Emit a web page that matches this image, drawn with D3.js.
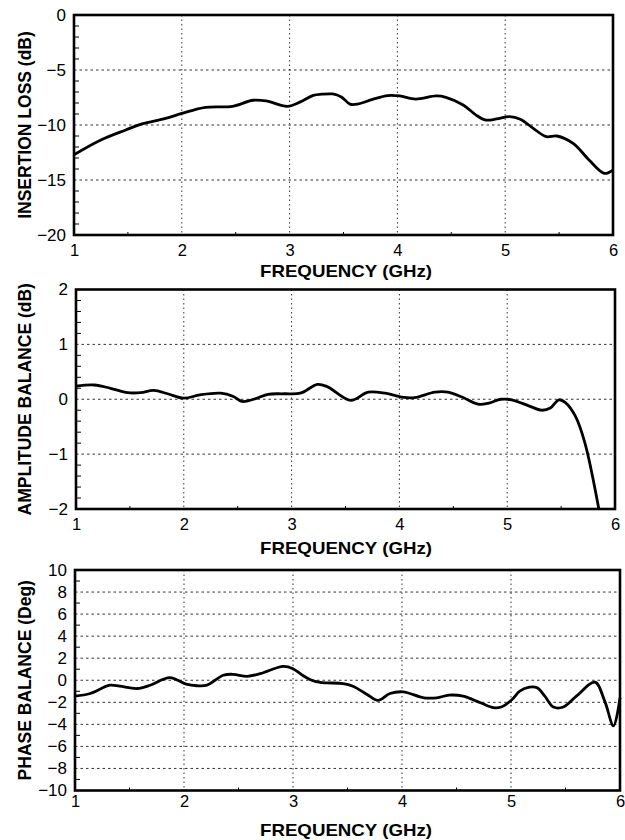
<!DOCTYPE html>
<html>
<head>
<meta charset="utf-8">
<script src="https://cdn.jsdelivr.net/npm/d3@7"></script>
<style>
  html, body { margin: 0; padding: 0; background: #fff; }
  svg { display: block; }
</style>
</head>
<body>
<svg id="chart" width="625" height="840"></svg>
<script>
// ---------- DATA ----------
const xTickLabels = [1, 2, 3, 4, 5, 6];

const insertionTicks = [0, -5, -10, -15, -20];
const insertionFreq = [1.0, 1.24, 1.48, 1.63, 1.85, 2.0, 2.22, 2.47, 2.66, 2.78, 2.98, 3.1, 3.22, 3.3, 3.4, 3.48, 3.56, 3.63, 3.77, 3.91, 4.02, 4.17, 4.36, 4.45, 4.61, 4.73, 4.82, 4.92, 5.04, 5.14, 5.26, 5.38, 5.48, 5.63, 5.78, 5.92, 6.0];
const insertionLoss = [-12.7, -11.4, -10.45, -9.9, -9.4, -8.95, -8.4, -8.3, -7.75, -7.8, -8.3, -7.9, -7.3, -7.2, -7.18, -7.45, -8.1, -8.1, -7.67, -7.33, -7.36, -7.64, -7.36, -7.48, -8.18, -9.1, -9.55, -9.45, -9.24, -9.48, -10.3, -11.06, -11.0, -11.67, -13.2, -14.4, -14.1];

const amplitudeTicks = [2, 1, 0, -1, -2];
const amplitudeFreq = [1.0, 1.17, 1.32, 1.48, 1.6, 1.72, 1.85, 2.0, 2.15, 2.34, 2.46, 2.54, 2.65, 2.78, 2.93, 3.08, 3.24, 3.33, 3.55, 3.71, 3.87, 4.02, 4.14, 4.33, 4.45, 4.58, 4.73, 4.83, 4.94, 5.04, 5.2, 5.32, 5.4, 5.48, 5.54, 5.63, 5.72, 5.85];
const amplitudeBalance = [0.24, 0.26, 0.2, 0.12, 0.12, 0.16, 0.1, 0.02, 0.08, 0.11, 0.05, -0.04, 0.0, 0.09, 0.1, 0.11, 0.27, 0.23, -0.02, 0.13, 0.11, 0.04, 0.03, 0.13, 0.13, 0.04, -0.09, -0.07, 0.0, -0.01, -0.12, -0.2, -0.16, -0.01, -0.06, -0.3, -0.79, -2.0];

const phaseTicks = [10, 8, 6, 4, 2, 0, -2, -4, -6, -8, -10];
const phaseFreq = [1.0, 1.14, 1.32, 1.41, 1.57, 1.69, 1.87, 2.02, 2.12, 2.21, 2.36, 2.45, 2.58, 2.7, 2.91, 3.0, 3.08, 3.16, 3.25, 3.31, 3.46, 3.55, 3.68, 3.78, 3.89, 4.01, 4.2, 4.32, 4.43, 4.56, 4.72, 4.84, 4.91, 5.01, 5.08, 5.17, 5.24, 5.31, 5.39, 5.48, 5.6, 5.77, 5.86, 5.94, 6.0];
const phaseBalance = [-1.44, -1.2, -0.45, -0.54, -0.75, -0.45, 0.24, -0.36, -0.5, -0.45, 0.45, 0.54, 0.36, 0.6, 1.26, 1.05, 0.5, 0.05, -0.2, -0.24, -0.3, -0.54, -1.29, -1.83, -1.2, -1.05, -1.59, -1.59, -1.35, -1.44, -2.04, -2.49, -2.43, -1.74, -0.99, -0.63, -0.69, -1.44, -2.43, -2.43, -1.44, -0.18, -1.89, -4.14, -1.6];

// ---------- LAYOUT ----------
const panels = [
  { top: 15, bottom: 235, left: 74, right: 613, yDomain: [-20, 0], ticks: insertionTicks, minorStep: 1,
    freq: insertionFreq, vals: insertionLoss, title: "INSERTION LOSS (dB)", xLabY: 256, xTitleY: 277 },
  { top: 289.5, bottom: 509, left: 76, right: 615, yDomain: [-2, 2], ticks: amplitudeTicks, minorStep: 0.2,
    freq: amplitudeFreq, vals: amplitudeBalance, title: "AMPLITUDE BALANCE (dB)", xLabY: 530, xTitleY: 554 },
  { top: 570, bottom: 790.5, left: 75, right: 620, yDomain: [-10, 10], ticks: phaseTicks, minorStep: 1,
    freq: phaseFreq, vals: phaseBalance, title: "PHASE BALANCE (Deg)", xLabY: 807, xTitleY: 836 }
];

const svg = d3.select("#chart");
const FONT = "'Liberation Sans', Arial, Helvetica, sans-serif";

panels.forEach(p => {
  const x = d3.scaleLinear().domain([1, 6]).range([p.left, p.right]);
  const y = d3.scaleLinear().domain(p.yDomain).range([p.bottom, p.top]);
  const g = svg.append("g");

  // grid - vertical
  g.selectAll(".vgrid").data(xTickLabels.filter(v => v > 1 && v < 6)).enter()
    .append("line")
    .attr("x1", d => x(d)).attr("x2", d => x(d))
    .attr("y1", p.top).attr("y2", p.bottom)
    .attr("stroke", "#333").attr("stroke-width", 1).attr("stroke-dasharray", "1.5,3");

  // grid - horizontal
  g.selectAll(".hgrid").data(p.ticks.filter(v => v > p.yDomain[0] && v < p.yDomain[1])).enter()
    .append("line")
    .attr("x1", p.left).attr("x2", p.right)
    .attr("y1", d => y(d)).attr("y2", d => y(d))
    .attr("stroke", "#333").attr("stroke-width", 1).attr("stroke-dasharray", "2.5,3");

  // minor ticks on left axis
  const n = Math.round((p.yDomain[1] - p.yDomain[0]) / p.minorStep);
  const minor = d3.range(n + 1).map(i => p.yDomain[0] + i * p.minorStep)
    .filter(v => !p.ticks.some(t => Math.abs(t - v) < 1e-6));
  g.selectAll(".minor").data(minor).enter()
    .append("line")
    .attr("x1", p.left).attr("x2", p.left + 5)
    .attr("y1", d => y(d)).attr("y2", d => y(d))
    .attr("stroke", "#000").attr("stroke-width", 1);

  // minor ticks on bottom axis (half GHz)
  g.selectAll(".xminor").data([1.5, 2.5, 3.5, 4.5, 5.5]).enter()
    .append("line")
    .attr("x1", d => x(d)).attr("x2", d => x(d))
    .attr("y1", p.bottom).attr("y2", p.bottom - 3)
    .attr("stroke", "#000").attr("stroke-width", 1);

  // data line
  const line = d3.line()
    .x((d, i) => x(p.freq[i]))
    .y(d => y(d))
    .curve(d3.curveCatmullRom.alpha(0.5));
  g.append("path")
    .attr("d", line(p.vals))
    .attr("fill", "none")
    .attr("stroke", "#000")
    .attr("stroke-width", 2.8)
    .attr("stroke-linejoin", "round");

  // frame
  g.append("rect")
    .attr("x", p.left).attr("y", p.top)
    .attr("width", p.right - p.left).attr("height", p.bottom - p.top)
    .attr("fill", "none").attr("stroke", "#000").attr("stroke-width", 2.6);

  // y tick labels
  const yAxis = d3.axisLeft(y).tickValues(p.ticks).tickSize(0).tickPadding(8)
    .tickFormat(d3.format("d"));
  const ya = g.append("g").attr("transform", `translate(${p.left},0)`).call(yAxis);
  ya.select(".domain").remove();
  ya.selectAll("text").attr("font-family", FONT).attr("font-size", 17).attr("fill", "#000");

  // x tick labels
  const xAxis = d3.axisBottom(x).tickValues(xTickLabels).tickSize(0).tickPadding(0)
    .tickFormat(d3.format("d"));
  const xa = g.append("g").call(xAxis);
  xa.select(".domain").remove();
  xa.selectAll("text")
    .attr("y", p.xLabY).attr("dy", null)
    .attr("font-family", FONT).attr("font-size", 16.5).attr("fill", "#000");

  // x title
  g.append("text")
    .attr("x", 346).attr("y", p.xTitleY)
    .attr("text-anchor", "middle")
    .attr("font-family", FONT).attr("font-weight", "bold").attr("font-size", 17)
    .attr("textLength", 172).attr("lengthAdjust", "spacingAndGlyphs")
    .text("FREQUENCY (GHz)");

  // y title
  const cy = (p.top + p.bottom) / 2;
  g.append("text")
    .attr("transform", `translate(31,${cy}) rotate(-90)`)
    .attr("text-anchor", "middle")
    .attr("font-family", FONT).attr("font-weight", "bold").attr("font-size", 17.5)
    .text(p.title);
});
</script>
</body>
</html>
